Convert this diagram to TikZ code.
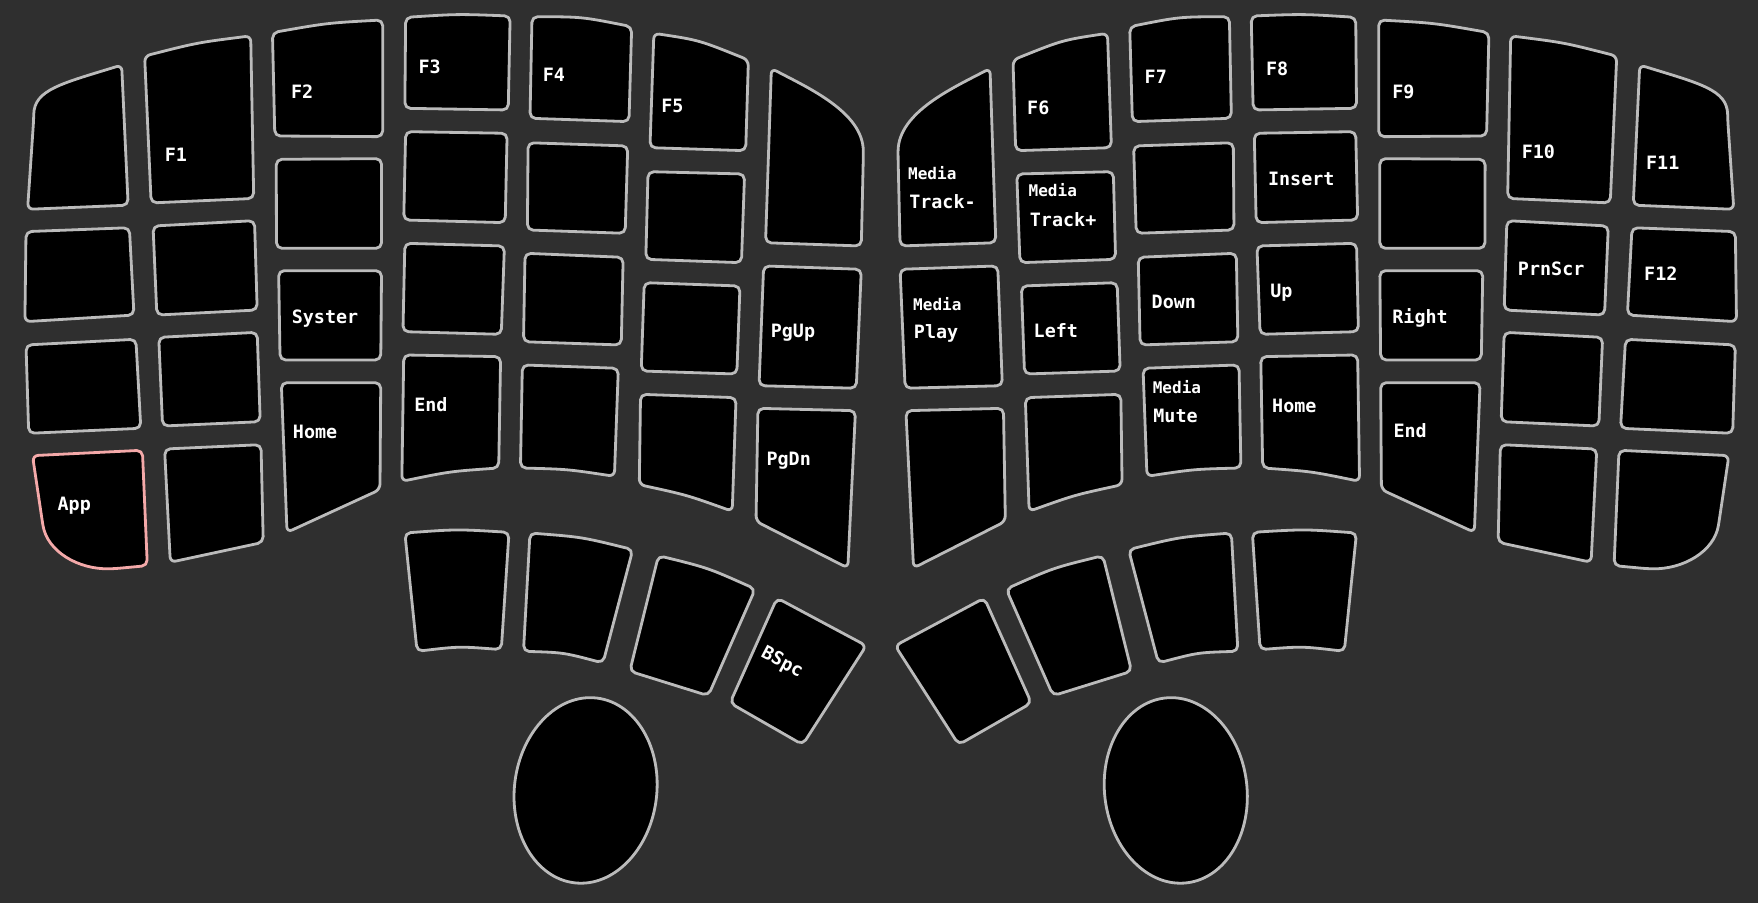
\documentclass[tikz,border=0pt]{standalone}
\usepackage{fontspec}
\newfontfamily\kf{DejaVu Sans Mono}
\definecolor{bgc}{HTML}{2F2F2F}
\definecolor{keyline}{HTML}{BBBBBB}
\definecolor{appline}{HTML}{F4A9A9}
\tikzset{
  keyshape/.style={draw=keyline, fill=black, line width=2.5pt, rounded corners=5pt, line join=round},
  appshape/.style={draw=appline},
  lbl/.style={anchor=west, inner sep=0pt, text=white, font=\kf\bfseries\fontsize{16.4}{18}\selectfont, text height=11.9pt, text depth=0pt},
  sublbl/.style={lbl, font=\kf\bfseries\fontsize{14.3}{16}\selectfont, text height=10.4pt},
}
\newcommand\keysL[1]{%
  % column 0
  \draw[keyshape] (30,107) .. controls (30.5,80) and (55,74.5) .. (108.5,58) -- (114.3,183) -- (24.6,186.7) -- cycle;
  \draw[keyshape] (23.2,206.6) -- (115.4,203.1) -- (119.5,281) -- (22.2,286.9) -- cycle;
  \draw[keyshape] (23.2,307.7) -- (121.2,302.6) -- (125.6,382) -- (25.6,386.5) -- cycle;
  \draw[keyshape,#1] (29,406.4) -- (127,401.6) -- (131.4,504.5) -- (102.4,507.2) .. controls (70,508) and (42,492) .. (37.5,463.5) -- cycle;
  % column 1
  \draw[keyshape] (129,50) .. controls (176,38) .. (223.6,32) -- (226.3,177) -- (134.8,181) -- cycle;
  \draw[keyshape] (136.5,201.6) -- (227,196.8) -- (229.4,276.5) -- (139.9,281) -- cycle;
  \draw[keyshape] (141.6,300.9) -- (229.4,296.4) -- (232.1,376.1) -- (145,380) -- cycle;
  \draw[keyshape] (146.8,400.5) -- (232.8,396.6) -- (234.8,483.7) -- (151.9,501.5) -- cycle;
  % column 2
  \draw[keyshape] (243,29.1) .. controls (292,20.5) .. (341.3,17.8) -- (341.3,121.9) -- (245.1,121.3) -- cycle;
  \draw[keyshape] (246.4,142.1) -- (340.3,141.5) -- (340.3,221.5) -- (246.6,221.5) -- cycle;
  \draw[keyshape] (248.5,241.4) -- (340.3,241.4) -- (339.6,321.1) -- (249.8,321.1) -- cycle;
  \draw[keyshape] (250.9,341.3) -- (339.6,341.3) -- (338.9,436.7) -- (256,474.8) -- cycle;
  % column 3
  \draw[keyshape] (361.8,15.5) .. controls (408.4,12.5) .. (455,14.3) -- (453.3,98.1) -- (361.1,96.6) -- cycle;
  \draw[keyshape] (361.8,117.4) -- (452.3,118.9) -- (450.6,198.6) -- (360.1,196.2) -- cycle;
  \draw[keyshape] (361.1,217) -- (449.9,219.4) -- (447.1,298.2) -- (359.4,295.8) -- cycle;
  \draw[keyshape] (360.1,316.6) -- (446.5,318.1) -- (444.8,417.4) .. controls (401.3,420.5) .. (358.4,429.3) -- cycle;
  % column 4
  \draw[keyshape] (474.5,14.9) .. controls (519,15) .. (563.4,23.8) -- (561,108.5) -- (472.7,105.5) -- cycle;
  \draw[keyshape] (471,127.3) -- (559.9,130.2) -- (557.6,208.1) -- (470.4,205.1) -- cycle;
  \draw[keyshape] (468.3,225.9) -- (555.8,229.5) -- (554.1,307.7) -- (466.9,304.8) -- cycle;
  \draw[keyshape] (465.9,325.5) -- (551.5,328.5) -- (548,424.8) .. controls (506,418.5) .. (464.2,417.4) -- cycle;
  % column 5
  \draw[keyshape] (583.2,29.7) .. controls (623.5,35.8) .. (667.5,53.5) -- (665.1,134.4) -- (579.7,131.7) -- cycle;
  \draw[keyshape] (578,153.1) -- (664.1,155.2) -- (661.3,234.3) -- (576,231.3) -- cycle;
  \draw[keyshape] (574.6,252.1) -- (660,255.1) -- (657.2,333.6) -- (571.9,330.9) -- cycle;
  \draw[keyshape] (571.3,351.7) -- (656.5,354.7) -- (653.1,456) .. controls (612.5,441.5) .. (570.2,432.3) -- cycle;
  % column 6
  \draw[keyshape] (688,61) .. controls (720,78) and (770,100) .. (770,140) -- (768.2,219.4) -- (682.8,216.5) -- cycle;
  \draw[keyshape] (681.1,237.2) -- (768.2,240.2) -- (763.7,346.3) -- (677,344) -- cycle;
  \draw[keyshape] (676,364.2) -- (763,366.3) -- (756.2,506.6) -- (674.3,465) -- cycle;
  % thumb cluster
  \draw[keyshape] (361.1,475.4) .. controls (407.5,472) .. (454,474.8) -- (447.1,579.4) .. controls (409.5,576.5) .. (372,580.9) -- cycle;
  \draw[keyshape] (472.7,475.4) .. controls (519,479) .. (564.4,490.2) -- (537.8,591.3) .. controls (502.5,582) .. (466.9,580.9) -- cycle;
  \draw[keyshape] (587.3,495.6) .. controls (631.5,506.5) .. (673.6,525.3) -- (631.7,620.5) -- (561.7,598.7) -- cycle;
  \draw[keyshape] (693.1,533.4) -- (772.6,575.9) -- (715.9,664.2) -- (651.1,627) -- cycle;
  % trackball
  \draw[keyshape, rotate around={-7:(522.3,705)}] (522.3,705) ellipse [x radius=63.5pt, y radius=83pt];
}
\begin{document}
\begin{tikzpicture}[x=1pt, y=-1pt]
  \path[use as bounding box, fill=bgc] (0,0) rectangle (1568,805);
  \keysL{appshape}
  \begin{scope}[shift={(1571,0)}, xscale=-1]
    \keysL{}
  \end{scope}
  % left labels
  \node[lbl] (lF1) at (146.8,138.3) {F1};
  \node[lbl] (lF2) at (259.4,81.8) {F2};
  \node[lbl] (lF3) at (373.1,59.5) {F3};
  \node[lbl] (lF4) at (484,67) {F4};
  \node[lbl] (lF5) at (589.7,94.8) {F5};
  \node[lbl] (lSys) at (260.1,282.4) {Syster};
  \node[lbl] (lHomeL) at (261.1,385) {Home};
  \node[lbl] (lEndL) at (369.3,361.2) {End};
  \node[lbl] (lPgUp) at (687.3,295) {PgUp};
  \node[lbl] (lPgDn) at (683.5,409.2) {PgDn};
  \node[lbl] (lApp) at (51.2,449.3) {App};
  \node[lbl, anchor=center, rotate=-28] (lBSpc) at (698.2,589.8) {BSpc};
  % right labels
  \node[sublbl] (lMed1) at (809.8,155.3) {Media};
  \node[lbl] (lTrkM) at (810.8,180.3) {Track-};
  \node[lbl] (lF6) at (916,96.6) {F6};
  \node[sublbl] (lMed2) at (917.3,170.5) {Media};
  \node[lbl] (lTrkP) at (918.4,196) {Track+};
  \node[lbl] (lF7) at (1020.8,68.4) {F7};
  \node[lbl] (lF8) at (1129,61) {F8};
  \node[lbl] (lIns) at (1130.8,159.5) {Insert};
  \node[lbl] (lF9) at (1241.7,81.8) {F9};
  \node[lbl] (lF10) at (1357.1,135.7) {F10};
  \node[lbl] (lF11) at (1468,145.4) {F11};
  \node[sublbl] (lMed3) at (814.3,271.3) {Media};
  \node[lbl] (lPlay) at (815,295.8) {Play};
  \node[lbl] (lLeft) at (921.8,295.4) {Left};
  \node[lbl] (lDown) at (1027,269) {Down};
  \node[lbl] (lUp) at (1132.8,259.4) {Up};
  \node[lbl] (lRight) at (1241.7,282.4) {Right};
  \node[lbl] (lPrn) at (1353.7,240.1) {PrnScr};
  \node[lbl] (lF12) at (1466.3,244.5) {F12};
  \node[sublbl] (lMed4) at (1028,345.6) {Media};
  \node[lbl] (lMute) at (1028.5,370.5) {Mute};
  \node[lbl] (lHomeR) at (1134.5,361.6) {Home};
  \node[lbl] (lEndR) at (1242.7,384.1) {End};
\end{tikzpicture}
\end{document}
